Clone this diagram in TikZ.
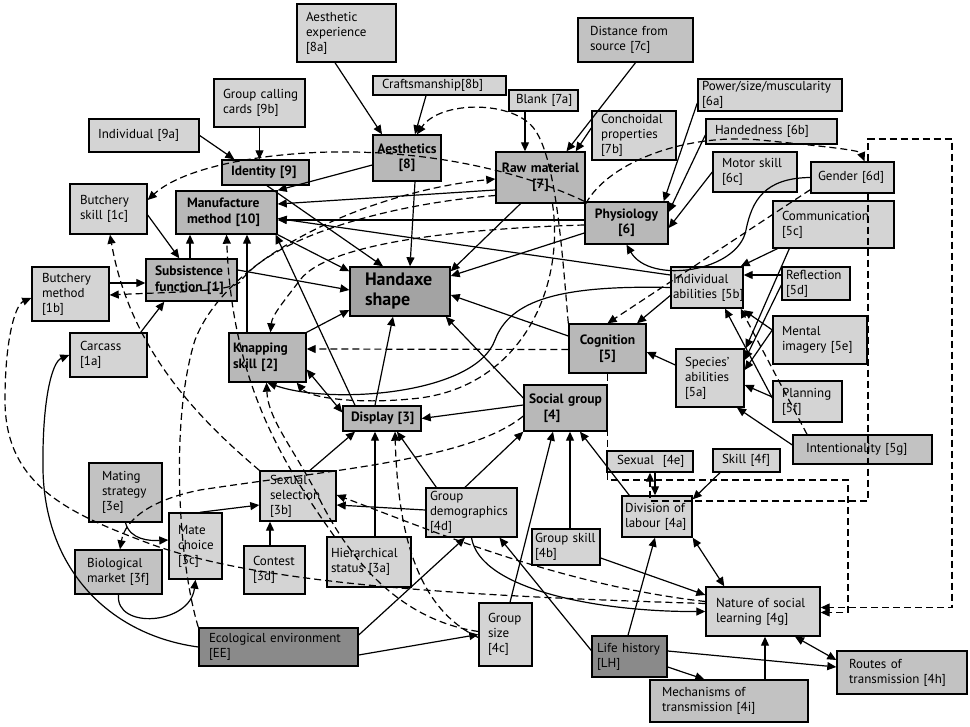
\documentclass[tikz,border=0pt]{standalone}
\usepackage{fontspec}
\setmainfont{PT Sans}
\usetikzlibrary{arrows.meta,calc}
\hyphenpenalty=10000
\exhyphenpenalty=10000

\begin{document}
\begin{tikzpicture}[x=1pt,y=-1pt,
  >={Triangle[length=9pt,width=8pt]}, font=\fontsize{13}{15}\selectfont,
  box/.style={draw,line width=1.4pt,inner xsep=9pt,inner ysep=2pt,align=left},
  lbox/.style={box,fill=black!17},
  mbox/.style={box,fill=black!24},
  factor/.style={box,fill=black!28,font=\fontsize{13.5}{15.5}\selectfont\bfseries},
  hbox/.style={box,fill=black!36,inner xsep=15pt,font=\fontsize{18}{20}\selectfont\bfseries},
  dbox/.style={box,fill=black!46},
  ar/.style={->,line width=1.2pt},
  bar/.style={<->,line width=1.2pt},
  dar/.style={->,line width=1.2pt,dash pattern=on 7pt off 4pt}
]
\fill[white] (0,0) rectangle (970,727);
\useasboundingbox (0,0) rectangle (970,727);
% aesthetics and identity
\node[lbox,text width=81pt,minimum height=58pt] (aexp) at (346.5,33) {Aesthetic\\experience\\{}[8a]};
\node[lbox,text width=115pt,minimum height=19pt] (craft) at (439.5,85.5) {Craftsmanship[8b]};
\node[factor,align=center,inner xsep=3pt,text width=62pt,minimum height=46pt] (aesth) at (407,158) {Aesthetics\\{}[8]};
\node[lbox,text width=73pt,minimum height=48pt] (calling) at (259.5,103) {Group~calling\\cards~[9b]};
\node[lbox,text width=92pt,minimum height=33pt] (indiv) at (144,135.5) {Individual~[9a]};
\node[factor,inner xsep=9pt,text width=69pt,minimum height=25pt] (ident) at (265.5,172.5) {Identity~[9]};
\node[factor,inner xsep=11pt,text width=79pt,minimum height=43pt] (manuf) at (226.5,212.5) {Manufacture\\method~[10]};
% raw material and physiology
\node[lbox,inner xsep=7pt,text width=55pt,minimum height=21pt] (blank) at (543.5,100.5) {Blank~[7a]};
\node[mbox,inner xsep=12pt,text width=91pt,minimum height=44pt] (dist) at (635.5,40) {Distance~from\\source~[7c]};
\node[lbox,text width=66pt,minimum height=49pt] (conch) at (634,135.5) {Conchoidal\\properties\\{}[7b]};
\node[factor,align=center,inner xsep=5pt,text width=79pt,minimum height=51pt] (raw) at (540.5,177.5) {Raw~material\\{}[7]};
\node[lbox,inner xsep=4pt,text width=136pt,minimum height=32pt] (power) at (770,95) {Power/size/muscularity\\{}[6a]};
\node[lbox,text width=113pt,minimum height=25pt] (hand) at (771.5,131.5) {Handedness~[6b]};
\node[lbox,text width=66pt,minimum height=40pt] (motor) at (755,172) {Motor~skill\\{}[6c]};
\node[lbox,inner xsep=7pt,text width=69pt,minimum height=31pt] (gender) at (852.5,177.5) {Gender~[6d]};
\node[factor,align=center,inner xsep=5pt,text width=73pt,minimum height=42pt] (physio) at (626.5,223) {Physiology\\{}[6]};
% cognition
\node[lbox,text width=103pt,minimum height=47pt] (comm) at (833.5,224.5) {Communication\\{}[5c]};
\node[lbox,inner xsep=2pt,text width=68pt,minimum height=41pt] (indab) at (707,287.5) {Individual\\abilities~[5b]};
\node[lbox,inner xsep=4pt,text width=60pt,minimum height=33pt] (refl) at (816,283.5) {Reflection\\{}[5d]};
\node[lbox,text width=76pt,minimum height=48pt] (mental) at (820,340) {Mental\\imagery~[5e]};
\node[lbox,text width=50pt,minimum height=58pt] (species) at (710,378) {Species'\\abilities\\{}[5a]};
\node[lbox,text width=51pt,minimum height=41pt] (plan) at (807.5,401.5) {Planning\\{}[5f]};
\node[mbox,inner xsep=13pt,text width=113pt,minimum height=29pt] (intent) at (862.5,449.5) {Intentionality~[5g]};
\node[factor,align=center,text width=59pt,minimum height=49pt] (cogn) at (607.5,348.5) {Cognition\\{}[5]};
% the shape itself
\node[hbox,text width=70pt,minimum height=49pt] (handaxe) at (400,291.5) {Handaxe\\shape};
% subsistence and knapping
\node[lbox,inner xsep=10pt,text width=57pt,minimum height=50pt] (bskill) at (108.5,209) {Butchery\\skill~[1c]};
\node[lbox,inner xsep=10pt,text width=57pt,minimum height=54pt] (bmethod) at (70.5,294) {Butchery\\method\\{}[1b]};
\node[lbox,inner xsep=10pt,text width=57pt,minimum height=44pt] (carcass) at (108.5,355) {Carcass\\{}[1a]};
\node[factor,inner xsep=9pt,text width=73pt,minimum height=42pt] (subs) at (191.5,280) {Subsistence\\function~[1]};
\node[factor,inner xsep=4pt,text width=69pt,minimum height=49pt] (knap) at (267.5,357.5) {Knapping\\skill~[2]};
% display and sexual selection
\node[factor,inner xsep=8pt,text width=62pt,minimum height=25pt] (display) at (382,418.5) {Display~[3]};
\node[mbox,inner xsep=13pt,text width=47pt,minimum height=59pt] (mating) at (125.5,492.5) {Mating\\strategy\\{}[3e]};
\node[lbox,inner xsep=9pt,text width=35pt,minimum height=66pt] (mate) at (195.5,546) {Mate\\choice\\{}[3c]};
\node[mbox,inner xsep=12pt,text width=63pt,minimum height=44pt] (biomkt) at (118.5,572) {Biological\\market~[3f]};
\node[lbox,inner xsep=10pt,text width=56pt,minimum height=50pt] (sexsel) at (298,496) {Sexual\\selection\\{}[3b]};
\node[lbox,inner xsep=9pt,text width=43pt,minimum height=48pt] (contest) at (274.5,570) {Contest\\{}[3d]};
\node[lbox,inner xsep=4pt,text width=76pt,minimum height=50pt] (hier) at (369,562) {Hierarchical\\status~[3a]};
% social group
\node[factor,inner xsep=5pt,text width=73pt,minimum height=46pt] (social) at (565.5,408) {Social~group\\\hspace*{1.1em}[4]};
\node[lbox,inner xsep=4pt,text width=83pt,minimum height=49pt] (demog) at (471.5,512.5) {Group\\demographics\\{}[4d]};
\node[lbox,inner xsep=3pt,text width=62pt,minimum height=36pt] (gskill) at (566,547) {Group~skill\\{}[4b]};
\node[lbox,inner xsep=9pt,text width=35pt,minimum height=63pt] (gsize) at (505.5,634.5) {Group\\size\\{}[4c]};
\node[lbox,inner xsep=10pt,text width=66pt,minimum height=21pt] (sexual) at (650,461.5) {Sexual~~[4e]};
\node[lbox,text width=49pt,minimum height=23pt] (skill) at (746.5,460.5) {Skill~[4f]};
\node[lbox,inner xsep=3pt,text width=64pt,minimum height=41pt] (divl) at (657,516.5) {Division~of\\labour~[4a]};
\node[lbox,inner xsep=10pt,text width=94pt,minimum height=49pt] (nature) at (763,611.5) {Nature~of~social\\learning~[4g]};
\node[mbox,inner xsep=12pt,text width=106pt,minimum height=43pt] (routes) at (902,672.5) {Routes~of\\transmission~[4h]};
\node[mbox,inner xsep=12pt,text width=134pt,minimum height=42pt] (mech) at (729,701) {Mechanisms~of\\transmission~[4i]};
% environment and life history
\node[dbox,inner xsep=10pt,text width=139pt,minimum height=38pt] (eco) at (278.5,647) {Ecological~environment\\{}[EE]};
\node[dbox,inner xsep=5pt,text width=65pt,minimum height=41pt] (life) at (629.5,656.5) {Life~history\\{}[LH]};

% inputs at the top
\draw[ar] ([xshift=-11.5pt]aexp.south) -- ([xshift=-25pt]aesth.north);
\draw[ar] ([xshift=-13.5pt]craft.south) -- ([xshift=8pt]aesth.north);
\draw[ar] ([xshift=-18.5pt]blank.south) -- ([xshift=-15.5pt]raw.north);
\draw[ar] (dist.south) -- ([xshift=26pt]raw.north);
\draw[ar] ([yshift=7.5pt]conch.west) -- ([xshift=-10pt]raw.north east);
\draw[ar] ([yshift=-8pt]power.west) -- ([xshift=-5pt]physio.north east);
\draw[ar] ([yshift=-3.5pt]hand.west) -- ([yshift=11pt]physio.east);
\draw[ar] (motor.west) -- ([yshift=-5pt]physio.east);
\draw[ar] (calling.south) -- (calling.south |- ident.north);
\draw[ar] (indiv.east) -- ([xshift=13pt]ident.north west);
% into manufacture method and handaxe shape
\draw[ar] ([yshift=-7pt]aesth.west) -- (manuf.north east);
\draw[ar] ([yshift=-12.5pt]raw.west) -- ([yshift=8.5pt]manuf.east);
\draw[ar] ([yshift=3pt]physio.west) -- ([yshift=-7.5pt]manuf.east);
\draw[ar] ([yshift=12.5pt]indab.west) -- ([yshift=-6pt]manuf.east);
\draw[ar] ([xshift=8pt]aesth.south) -- ([xshift=10pt]handaxe.north);
\draw[ar] ([xshift=-20pt]raw.south) -- ([yshift=-5pt]handaxe.north east);
\draw[ar] ([yshift=-10pt]physio.west) -- ([yshift=15.5pt]handaxe.east);
\draw[ar] ([yshift=12.5pt]cogn.west) -- ([yshift=-3.5pt]handaxe.east);
\draw[ar] ([yshift=10pt]social.west) -- ([xshift=-5pt]handaxe.south east);
\draw[ar] ([xshift=-7pt]display.north) -- ([xshift=-7pt]handaxe.south);
\draw[ar] ([xshift=1.5pt]ident.south) -- ([xshift=-17pt]handaxe.north);
\draw[ar] (manuf.south east) -- ([yshift=-5pt]handaxe.north west);
\draw[ar] ([yshift=10pt]subs.east) -- ([yshift=1.5pt]handaxe.west);
\draw[ar] (knap.north east) -- ([yshift=-18.5pt]handaxe.west);
\draw[ar] ([xshift=-1.5pt]subs.north) -- ([xshift=-36.5pt]manuf.south);
\draw[ar] ([xshift=-20.5pt]knap.north) -- ([xshift=20.5pt]manuf.south);
\draw[ar] ([xshift=-27pt]display.north) -- ([xshift=-2pt]manuf.south east);
% subsistence
\draw[ar] ([yshift=-6pt]bskill.east) -- ([xshift=34pt]subs.north west);
\draw[ar] ([yshift=11pt]bmethod.east) -- ([yshift=-3pt]subs.west);
\draw[ar] ([xshift=-7pt]carcass.north east) -- ([xshift=19pt]subs.south west);
% display
\draw[bar] ([yshift=-12pt]knap.east) -- ([yshift=6pt]display.west);
\draw[ar] ([yshift=3pt]social.west) -- (display.east);
\draw[ar] ([xshift=12pt]sexsel.north) -- ([xshift=-27pt]display.south);
\draw[ar] ([xshift=6pt]hier.north) -- ([xshift=-7pt]display.south);
\draw[ar] ([xshift=11pt]demog.north west) -- ([xshift=15pt]display.south);
% social group
\draw[ar] ([xshift=-6.5pt]demog.north) -- (social.south west);
\draw[ar] ([xshift=4.5pt]gsize.north) -- ([xshift=-12.5pt]social.south);
\draw[ar] ([xshift=4pt]gskill.north) -- ([xshift=4.5pt]social.south);
\draw[ar] ([xshift=8pt]divl.north west) -- ([xshift=14.5pt]social.south);
\draw[ar] ([xshift=-26.5pt]skill.south) -- ([yshift=-4pt]divl.north east);
\draw[ar] ([xshift=5pt]sexual.south) -- ([xshift=-2pt]divl.north);
\draw[bar] (divl.south east) -- ([xshift=19pt]nature.north west);
\draw[ar] ([yshift=-11pt]gskill.east) -- ([yshift=16.5pt]nature.west);
\draw[ar] (demog.south) .. controls (480,590) and (600,612) .. (nature.west);
\draw[ar] ([xshift=-1.5pt]life.north) -- ([xshift=-2pt]divl.south);
\draw[ar] ([yshift=6pt]life.west) -- ([xshift=28pt]demog.south);
\draw[ar] ([yshift=5.5pt]life.east) -- ([yshift=5.5pt]routes.west);
\draw[ar] ([yshift=-10.5pt]life.east) -- ([xshift=55pt]mech.north west);
\draw[ar] ([xshift=36pt]mech.north) -- ([xshift=2pt]nature.south);
\draw[bar] ([yshift=12.5pt]routes.west) -- ([xshift=32pt]nature.south);
% environment
\draw[ar] ([yshift=-8pt]eco.east) -- (gsize.west);
\draw[ar] ([yshift=12pt]eco.east) -- ([xshift=-6.5pt]demog.south);
\draw[ar] (eco.west) .. controls (110,635) and (45,570) .. (43,470) .. controls (42,400) and (52,362) .. (carcass.west);
% sexual selection
\draw[ar] (mating.south) .. controls (130,540) and (150,541) .. ([yshift=6pt]mate.west);
\draw[ar] (biomkt.south) .. controls (115,630) and (190,625) .. (mate.south);
\draw[ar] ([xshift=4.5pt]mate.north) -- ([yshift=-9pt]sexsel.west);
\draw[ar] ([xshift=-4.5pt]contest.north) -- ([xshift=-28pt]sexsel.south);
\draw[ar] ([yshift=2.5pt]demog.west) -- ([yshift=-9pt]sexsel.east);
% cognition
\draw[ar] (gender.west) .. controls (765,178) and (752,200) .. (746,230) .. controls (738,272) and (650,285) .. (physio.south);
\draw[ar] (indab.west) .. controls (560,285) and (510,300) .. (495,340) .. controls (475,395) and (330,405) .. (knap.south);
\draw[ar] ([yshift=-8pt]indab.west) -- ([xshift=29.5pt]cogn.north);
\draw[ar] ([yshift=13pt]species.west) -- ([yshift=-3.5pt]cogn.east);
\draw[ar] ([yshift=8.5pt]refl.west) -- ([yshift=12.5pt]indab.east);
\draw[ar] ([xshift=5pt]comm.south west) -- ([xshift=-3pt]indab.north east);
\draw[ar] ([xshift=17pt]comm.south west) -- ([xshift=1pt]species.north east);
\draw[ar] ([yshift=-1.5pt]refl.west) -- ([yshift=18pt]species.east);
\draw[ar] ([yshift=10pt]mental.west) -- ([yshift=8pt]species.east);
\draw[ar] ([yshift=10pt]mental.west) -- ([yshift=-1.5pt]indab.south east);
\draw[ar] ([yshift=4.5pt]plan.west) -- ([yshift=-7pt]species.east);
\draw[ar] ([yshift=3.5pt]plan.west) -- ([xshift=18pt]indab.south);
\draw[ar] ([yshift=4.5pt]intent.west) -- ([xshift=27pt]species.south);
% dashed links
\draw[dar] ([xshift=-55.5pt]intent.north) -- ([xshift=-3pt]indab.south east);
\draw[dar] ([yshift=4pt]gender.south west) -- (cogn.north);
\draw[dar] (raw.south east) .. controls (610,160) and (690,133) .. (760,140) .. controls (820,146) and (860,150) .. ([xshift=12pt]gender.north);
\draw[dar] ([xshift=15.5pt]gender.north) |- (952,139) |- ([yshift=4pt]nature.east);
\draw[dar] ([xshift=15.5pt]gender.south) |- (650,501) -- (sexual.south);
\draw[dar] (cogn.south) |- (848,480) |- ([yshift=-1pt]nature.east);
\draw[dar] (cogn.north west) .. controls (562,250) and (556,160) .. (535,130) .. controls (515,100) and (440,100) .. ([xshift=10pt]aesth.north);
\draw[dar] (physio.north west) .. controls (540,180) and (450,150) .. (330,152) .. controls (250,154) and (180,170) .. ([yshift=9pt]bskill.east);
\draw[dar] (eco.north west) .. controls (178,560) and (170,420) .. (195,340) .. controls (230,250) and (380,190) .. ([yshift=-1.5pt]raw.west);
\draw[dar] ([yshift=-2pt]physio.west) .. controls (480,228) and (330,240) .. (300,280) .. controls (285,300) and (272,315) .. ([xshift=3pt]knap.north);
\draw[dar] ([yshift=-1pt]cogn.west) -- ([yshift=8.5pt]knap.east);
\draw[dar] ([yshift=-18pt]raw.west) .. controls (380,205) and (270,240) .. (240,282) .. controls (230,292) and (170,292) .. ([yshift=-1pt]bmethod.east);
\draw[dar] ([xshift=12pt]raw.south) .. controls (565,290) and (520,385) .. (420,398) .. controls (360,405) and (310,398) .. ([xshift=-10pt]knap.south east);
\draw[dar] (sexsel.north west) .. controls (200,420) and (130,350) .. ([xshift=1.5pt]bskill.south);
\draw[dar] ([xshift=8pt]hier.north west) .. controls (280,460) and (232,380) .. (manuf.south);
\draw[dar] ([yshift=3pt]gsize.west) .. controls (400,620) and (350,560) .. (320,500) .. controls (295,450) and (268,420) .. ([xshift=-1pt]knap.south);
\draw[dar] ([yshift=-3pt]gsize.west) .. controls (420,610) and (398,540) .. ([xshift=13pt]display.south);
\draw[dar] ([yshift=-8pt]social.west) .. controls (470,460) and (330,470) .. (200,490) .. controls (150,500) and (125,520) .. ([xshift=1.5pt]biomkt.north);
\draw[dar] ([yshift=10pt]nature.west) .. controls (560,585) and (430,530) .. ([yshift=1pt]sexsel.east);
\draw[dar] ([yshift=8pt]nature.west) .. controls (420,595) and (240,580) .. (140,540) .. controls (60,510) and (5,480) .. (5,400) .. controls (5,340) and (15,305) .. ([yshift=-4pt]bmethod.west);
\end{tikzpicture}
\end{document}
